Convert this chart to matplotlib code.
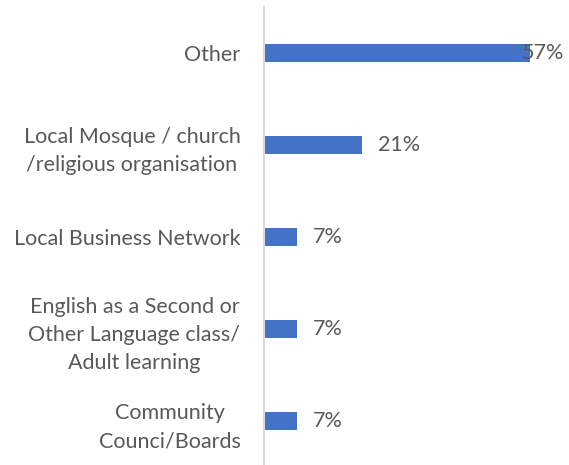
import matplotlib
matplotlib.use("Agg")
import matplotlib.pyplot as plt

categories = ["Other", "Local Mosque / church\n/religious organisation", "Local Business Network",
              "English as a Second or\nOther Language class/\nAdult learning", "Community\nCounci/Boards"]
values = [57, 21, 7, 7, 7]
value_labels = ["57%", "21%", "7%", "7%", "7%"]

W, H = 569, 465
fig = plt.figure(figsize=(W/100, H/100), dpi=100)
left, right, top, bot = 264, 566, 7, 467
ax = fig.add_axes([left/W, 1 - bot/H, (right-left)/W, (bot-top)/H])

fs = 15.5
txt = "#595959"
pxu = 4.667  # pixels per percent
ypos = list(range(len(categories)))
ax.barh(ypos, values, height=0.2, color="#4472C4")
xmax = (right - left) / pxu
ax.set_xlim(0, xmax)
ax.set_ylim(len(categories) - 0.5, -0.5)

off = 16 / pxu
for y, v, lab in zip(ypos, values, value_labels):
    x = v + off
    if x + 40/pxu > xmax:
        ax.text(xmax - 2/pxu, y, lab, ha="right", va="center", fontsize=fs, color=txt, family="Lato")
    else:
        ax.text(x, y, lab, ha="left", va="center", fontsize=fs, color=txt, family="Lato")

ax.set_yticks(ypos)
ax.set_yticklabels(categories, fontsize=fs, color=txt, family="Lato", linespacing=1.5,
                   multialignment="center")
ax.tick_params(axis="y", length=0, pad=17)
ax.set_xticks([])
for s in ["top", "right", "bottom"]:
    ax.spines[s].set_visible(False)
ax.spines["left"].set_color("#D9D9D9")
ax.spines["left"].set_linewidth(1.5)

fig.savefig("out.png", dpi=100)
